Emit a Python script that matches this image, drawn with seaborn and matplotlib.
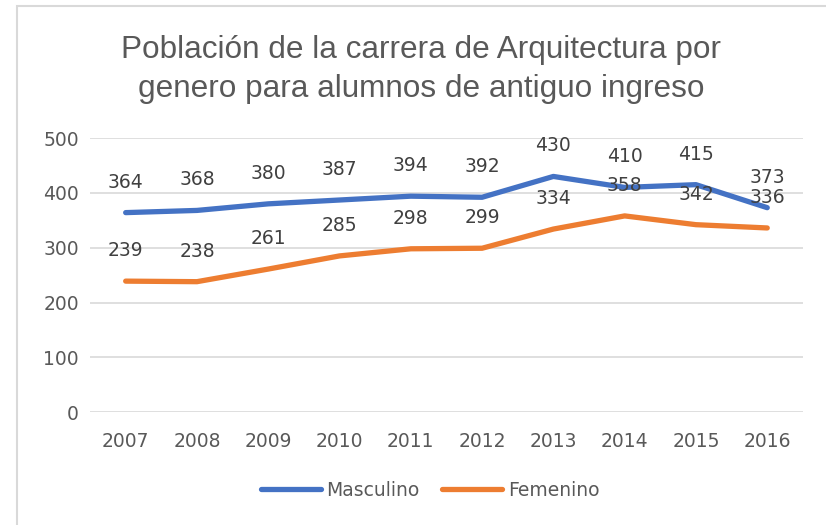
import seaborn as sns
import matplotlib.pyplot as plt
import pandas as pd
from matplotlib.patches import Rectangle

sns.set_theme(style="white")
plt.rcParams["font.family"] = ["DejaVu Sans"]

years = ["2007", "2008", "2009", "2010", "2011", "2012", "2013", "2014", "2015", "2016"]
masculino = [364, 368, 380, 387, 394, 392, 430, 410, 415, 373]
femenino = [239, 238, 261, 285, 298, 299, 334, 358, 342, 336]
series_names = ["Masculino", "Femenino"]
colors = ["#4472C4", "#ED7D31"]

df = pd.DataFrame({
    "year": years * 2,
    "value": masculino + femenino,
    "serie": ["Masculino"] * len(years) + ["Femenino"] * len(years),
})

fig = plt.figure(figsize=(8.26, 5.25), dpi=100)
ax = fig.add_axes([0.109, 0.215, 0.863, 0.522])

sns.lineplot(data=df, x="year", y="value", hue="serie", hue_order=series_names,
             palette=colors, linewidth=3.8, ax=ax, sort=False)
for line in ax.get_lines():
    line.set_solid_capstyle("round")

# data labels above points
for vals in (masculino, femenino):
    for i, v in enumerate(vals):
        ax.annotate(str(v), (i, v), xytext=(0, 22), textcoords="offset points",
                    ha="center", va="center", fontsize=13.5, color="#404040")

ax.set_xlim(-0.5, len(years) - 0.5)
ax.set_ylim(0, 500)
ax.set_yticks([0, 100, 200, 300, 400, 500])
ax.set_xlabel("")
ax.set_ylabel("")
ax.grid(axis="y", color="#D9D9D9", linewidth=1.2)
ax.set_axisbelow(True)
for s in ax.spines.values():
    s.set_visible(False)
ax.tick_params(axis="y", length=0, pad=8, labelsize=13.5, labelcolor="#595959")
ax.tick_params(axis="x", length=0, pad=14, labelsize=13.5, labelcolor="#595959")

leg = ax.legend(loc="center", bbox_to_anchor=(0.477, -0.285), ncol=2, frameon=False,
                fontsize=13.5, handlelength=3.2, columnspacing=1.2, handletextpad=0.3)
for t in leg.get_texts():
    t.set_color("#595959")
for h in leg.get_lines():
    h.set_linewidth(3.8)
    h.set_solid_capstyle("round")

fig.text(0.51, 0.868, "Población de la carrera de Arquitectura por\ngenero para alumnos de antiguo ingreso",
         ha="center", va="center", fontsize=22.7, color="#595959",
         family=["Liberation Sans", "DejaVu Sans"], linespacing=1.38)

fig.patches.append(Rectangle((17 / 826, -0.1), 1.2, 1.1 - 6 / 525, transform=fig.transFigure,
                             fill=False, edgecolor="#D9D9D9", linewidth=1.5))

fig.savefig("out.png", dpi=100)
